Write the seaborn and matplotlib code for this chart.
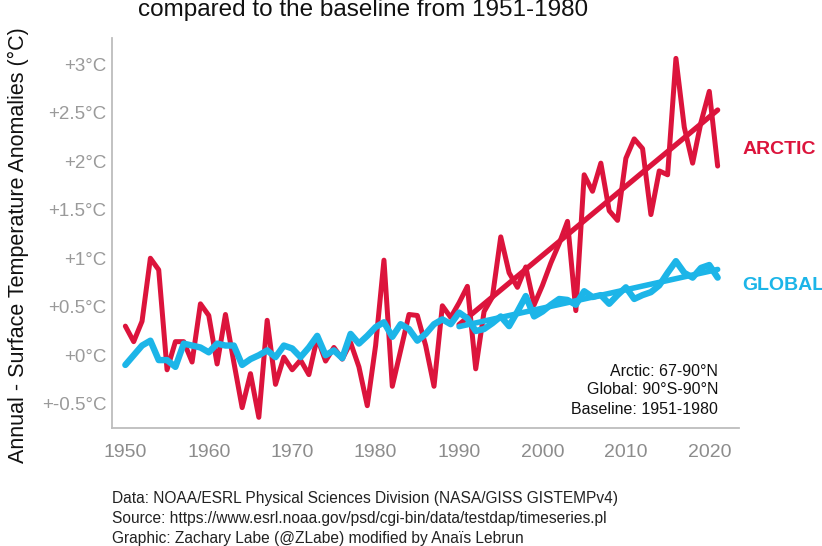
import numpy as np
import pandas as pd
import matplotlib
matplotlib.use("Agg")
import matplotlib.pyplot as plt
import seaborn as sns

# ---------------- data ----------------
years = list(range(1950, 2022))

arctic = [0.30, 0.14, 0.35, 1.00, 0.88, -0.15, 0.14, 0.14, -0.07, 0.53,
          0.41, -0.09, 0.42, -0.07, -0.54, -0.19, -0.64, 0.36, -0.30, -0.02,
          -0.15, -0.05, -0.20, 0.18, -0.06, 0.08, -0.04, 0.13, -0.12, -0.52,
          0.10, 0.98, -0.32, 0.05, 0.42, 0.41, 0.10, -0.32, 0.51, 0.39,
          0.54, 0.71, -0.14, 0.45, 0.60, 1.22, 0.85, 0.70, 0.91, 0.52,
          0.72, 0.95, 1.15, 1.38, 0.46, 1.86, 1.69, 1.98, 1.49, 1.39,
          2.03, 2.23, 2.13, 1.45, 1.90, 1.86, 3.06, 2.35, 1.98, 2.40,
          2.72, 1.95]

global_anom = [-0.10, 0.00, 0.10, 0.15, -0.05, -0.05, -0.12, 0.12, 0.10, 0.08,
               0.03, 0.12, 0.10, 0.10, -0.10, -0.04, 0.00, 0.05, -0.02, 0.10,
               0.07, -0.02, 0.08, 0.20, 0.00, 0.05, -0.03, 0.22, 0.12, 0.20,
               0.29, 0.34, 0.19, 0.32, 0.27, 0.15, 0.22, 0.32, 0.37, 0.32,
               0.44, 0.38, 0.25, 0.27, 0.33, 0.40, 0.30, 0.45, 0.61, 0.40,
               0.45, 0.52, 0.58, 0.57, 0.52, 0.66, 0.60, 0.62, 0.53, 0.62,
               0.70, 0.58, 0.62, 0.65, 0.72, 0.85, 0.97, 0.85, 0.80, 0.90,
               0.93, 0.80]

trend_start = 1990

xtick_vals = [1950, 1960, 1970, 1980, 1990, 2000, 2010, 2020]
ytick_vals = [-0.5, 0, 0.5, 1, 1.5, 2, 2.5, 3]
ytick_labels = ["+-0.5°C", "+0°C", "+0.5°C", "+1°C", "+1.5°C", "+2°C", "+2.5°C", "+3°C"]

title_text = "compared to the baseline from 1951-1980"
ylabel_text = "Annual - Surface Temperature Anomalies (°C)"
info_lines = ["Arctic: 67-90°N", "Global: 90°S-90°N", "Baseline: 1951-1980"]
footer_lines = ["Data: NOAA/ESRL Physical Sciences Division (NASA/GISS GISTEMPv4)",
                "Source: https://www.esrl.noaa.gov/psd/cgi-bin/data/testdap/timeseries.pl",
                "Graphic: Zachary Labe (@ZLabe) modified by Anaïs Lebrun"]

# ---------------- styling ----------------
RED = "#DC143C"
BLUE = "#1CB5E8"

sns.set_style("white")
plt.rcParams["font.family"] = ["Liberation Sans", "DejaVu Sans"]

df = pd.DataFrame({"year": years, "arctic": arctic, "global": global_anom})
recent = df[df["year"] >= trend_start]

W, H = 822, 546
fig = plt.figure(figsize=(W / 100, H / 100), dpi=100)
ax = fig.add_axes([112 / W, 1 - 428 / H, (738.5 - 112) / W, 390 / H])

sns.lineplot(data=df, x="year", y="arctic", color=RED, lw=3.6, ax=ax, zorder=3)
sns.regplot(data=recent, x="year", y="arctic", scatter=False, ci=None, truncate=True,
            color=RED, line_kws={"lw": 3.8, "zorder": 4}, ax=ax)
sns.lineplot(data=df, x="year", y="global", color=BLUE, lw=4.6, ax=ax, zorder=5)
sns.regplot(data=recent, x="year", y="global", scatter=False, ci=None, truncate=True,
            color=BLUE, line_kws={"lw": 4.0, "zorder": 6}, ax=ax)

ax.set_xlim(1948.4, 2023.5)
ax.set_ylim(-0.69, 3.27)

ax.set_xticks(xtick_vals)
ax.set_xticklabels([str(v) for v in xtick_vals])
ax.set_yticks(ytick_vals)
ax.set_yticklabels(ytick_labels)
ax.set_yticks(np.arange(-0.75, 3.26, 0.25), minor=True)

ax.tick_params(axis="x", which="major", labelsize=14, labelcolor="#8C8C8C",
               color="#BBBBBB", direction="inout", length=5, width=1, pad=9)
ax.tick_params(axis="y", which="major", labelsize=13.5, labelcolor="#9A9A9A",
               color="#D5D5D5", direction="in", length=6, width=1, pad=4)
ax.tick_params(axis="y", which="minor", color="#EBEBEB", direction="in", length=6, width=1)

for s in ["top", "right"]:
    ax.spines[s].set_visible(False)
for s in ["left", "bottom"]:
    ax.spines[s].set_color("#BDBDBD")
    ax.spines[s].set_linewidth(1.3)

ax.set_xlabel("")
ax.set_ylabel(ylabel_text, fontsize=15.5, color="#111111")
ax.yaxis.set_label_coords((29 - 112) / (738.5 - 112), (428 - 245) / 390)

# title (second line, partly cut at the top as in the reference)
fig.text(363 / W, 1 - 16 / H, title_text, ha="center", va="baseline",
         fontsize=17.5, color="#111111")

# series labels at the right
fig.text(743 / W, 1 - 150 / H, "ARCTIC", ha="left", va="center",
         fontsize=14, fontweight="bold", color=RED)
fig.text(742 / W, 1 - 285 / H, "GLOBAL", ha="left", va="center",
         fontsize=14, fontweight="bold", color=BLUE)

# info box
for i, line in enumerate(info_lines):
    fig.text(718 / W, 1 - (371 + 19 * i) / H, line, ha="right", va="center",
             fontsize=11.5, color="#111111")

# footer
for i, line in enumerate(footer_lines):
    fig.text(112 / W, 1 - (498 + 20 * i) / H, line, ha="left", va="center",
             fontsize=11.2, color="#222222")

fig.savefig("out.png", dpi=100)
